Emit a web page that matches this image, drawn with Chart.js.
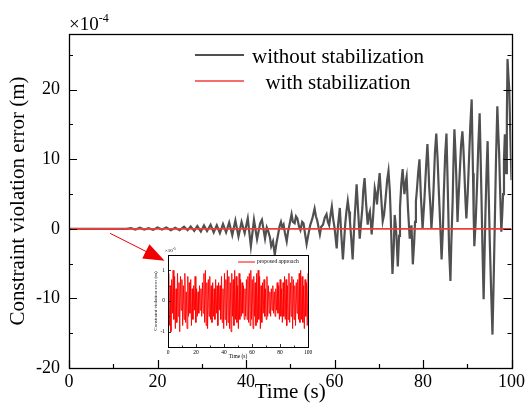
<!DOCTYPE html>
<html><head><meta charset="utf-8">
<script src="https://cdn.jsdelivr.net/npm/chart.js@4/dist/chart.umd.min.js"></script>
<style>
html,body{margin:0;padding:0;background:#fff;}
#wrap{position:relative;width:528px;height:413px;overflow:hidden;background:#fff;}
#main{position:absolute;left:0;top:0;}
#inset{position:absolute;left:146px;top:243px;}
</style></head><body>
<div id="wrap"><canvas id="main" width="528" height="413"></canvas><canvas id="inset" width="172" height="120"></canvas></div>
<script>
const FONT = "'Liberation Serif','Times New Roman',serif";

// ---- main chart data (x10^-4 m) ----
const seriesNames = ['without stabilization', 'with stabilization'];
const xTickValues = [0, 20, 40, 60, 80, 100];
const yTickValues = [-20, -10, 0, 10, 20];
const timeWithout = [
  0, 13, 14, 15, 16, 17, 18, 19, 20, 21,
  22, 23, 24, 25, 26, 26.8, 27.5, 28.3, 29, 29.8,
  30.5, 31.2, 32, 32.7, 33.4, 34.1, 34.8, 35.5, 36.2, 36.9,
  37.6, 38.3, 39, 39.7, 40.4, 41.1, 41.8, 42.5, 43.2, 43.6,
  44.3, 44.7, 45, 45.4, 45.7, 46.1, 46.5, 46.9, 47.2, 47.6,
  47.9, 48.2, 48.5, 48.8, 49.2, 49.5, 49.8, 50.3, 50.6, 51,
  51.3, 51.6, 52, 52.3, 52.7, 53, 53.3, 53.7, 54.1, 54.5,
  55, 55.5, 55.8, 56.1, 56.4, 56.7, 57, 57.4, 57.8, 58.2,
  58.5, 58.8, 59.1, 59.4, 59.7, 60, 60.5, 60.8, 61.2, 61.5,
  61.9, 62.2, 62.4, 62.7, 63, 63.3, 63.5, 63.8, 64.1, 64.5,
  65, 65.3, 65.7, 66, 66.3, 66.5, 66.8, 67.1, 67.5, 67.7,
  68, 68.2, 68.4, 68.7, 69.1, 69.4, 69.6, 69.9, 70.2, 70.5,
  70.9, 71.2, 71.5, 71.9, 72.2, 72.5, 72.7, 72.9, 73.1, 73.4,
  73.6, 73.8, 74, 74.3, 74.6, 74.8, 75.1, 75.4, 75.6, 75.8,
  76.1, 76.3, 76.6, 77, 77.4, 77.7, 78, 78.2, 78.4, 78.6,
  78.9, 79.2, 79.5, 79.9, 80.1, 80.3, 80.7, 81, 81.2, 81.4,
  81.7, 81.9, 82.2, 82.4, 82.7, 83, 83.3, 83.6, 83.9, 84.2,
  84.5, 84.7, 85, 85.3, 85.5, 85.7, 85.9, 86.2, 86.4, 86.7,
  86.9, 87.1, 87.3, 87.5, 87.8, 88, 88.3, 88.6, 88.9, 89.1,
  89.3, 89.6, 89.8, 90.1, 90.4, 90.7, 91, 91.15, 91.3, 91.45,
  91.6, 91.9, 92.2, 92.5, 92.8, 93, 93.2, 93.45, 93.7, 93.9,
  94.1, 94.35, 94.6, 94.85, 95.1, 95.4, 95.7, 95.95, 96.2, 96.5,
  96.8, 97, 97.2, 97.45, 97.7, 97.9, 98.1, 98.3, 98.5, 98.65,
  98.8, 98.95, 99.1, 99.3, 99.5, 99.75, 100
];
const valWithout = [
  0, 0, 0.1, -0.1, 0.15, -0.1, 0.1, -0.15, 0.2, -0.1,
  0.2, -0.2, 0.15, -0.2, 0.3, -0.2, 0.35, -0.3, 0.4, -0.4,
  0.5, -0.3, 0.6, -0.5, 0.5, -0.6, 0.7, -0.5, 0.9, -0.9,
  1.2, -1.1, 1.0, -0.6, 1.5, -2.5, 1.3, -1.5, 0.8, 1.3,
  -1.4, 0.2, -0.3, -1.2, -2.5, -1.8, -3.7, -2.0, -1.0, 0.4,
  1.0, 0.2, 0.6, -0.6, -1.8, -0.4, 0.5, 2.1, 1.0, 0.8,
  1.8, 1.5, 0.3, -0.2, 1.0, 0.8, -0.5, -2.2, -0.8, 0.5,
  1.5, 2.9, 1.8, 1.2, 0.2, -0.8, 0.3, 0.6, 1.6, 2.1,
  1.0, 0.5, 2.0, 3.2, 1.4, 0.2, -2.8, 0.5, 3.0, -0.5,
  -4.4, -1.5, 0.5, 2.5, 4.0, 2.5, 1.0, -1.5, -4.4, 1.0,
  6.4, 3.0, -1.4, 0.8, 3.0, 5.5, 7.3, 4.0, 0.6, 1.8,
  2.5, 1.0, -0.8, 1.5, 5.8, 4.8, 3.5, 6.0, 8.0, 5.0,
  1.1, 2.0, 4.0, 7.0, 8.3, 5.5, 2.0, -2.5, -6.5, -2.5,
  2.0, 0.8, -1.0, -5.4, -1.0, 3.0, 6.5, 8.6, 6.5, 5.0,
  6.8, 7.5, 3.0, -1.4, 0.5, -5.1, -2.0, 1.0, 4.0, 5.4,
  8.0, 10.0, 5.0, 0.0, 2.0, 4.0, 9.0, 12.2, 9.5, 6.0,
  3.0, 0.0, 3.0, 6.0, 11.0, 13.7, 10.0, 5.0, 0.5, -4.4,
  0.0, 5.0, 10.5, 13.7, 8.5, 3.0, -3.0, -7.5, -2.0, 4.0,
  10.0, 14.3, 11.5, 8.0, 1.0, 4.0, 8.0, 12.0, 14.0, 12.0,
  9.0, 4.0, 1.5, 5.0, 10.0, 15.0, 18.6, 13.0, 8.0, 2.0,
  -2.5, 1.0, 6.0, 12.0, 16.6, 11.0, 5.0, -3.0, -10.1, -4.0,
  2.0, 8.0, 12.6, 5.0, -2.0, -9.0, -15.2, -8.0, 0.0, 10.0,
  17.6, 14.0, 11.0, 5.0, -0.4, 2.0, 5.0, 10.0, 13.6, 11.0,
  8.0, 16.0, 24.4, 22.0, 20.0, 13.0, 7.0
];
const timeWith = [0, 100];
const valWith = [0, 0];

// ---- inset chart data (x10^-5 m) ----
const insetName = 'proposed approach';
const insetXTickValues = [0, 20, 40, 60, 80, 100];
const insetYTickValues = [-1, 0, 1];
const insetVals = [
  0, 0.9, -0.8, 0.5, -1.0, 0.7, -0.4, 1.0, -0.6, 0.8, -0.9, 0.4, -0.7, 0.9, -0.5, 0.6, -1.0, 0.8, -0.3, 0.7, -0.8,
  0.5, -0.6, 0.9, -0.7, 0.3, -0.9, 0.8, -0.5, 0.6, -0.4, 0.7, -0.8, 0.4, -0.6, 0.5, -0.3, 0.8, -0.7, 0.4, -0.5,
  0.3, -0.4, 0.5, -0.3, 0.4, -0.5, 0.6, -0.4, 0.9, -0.7, 1.0, -0.8, 0.6, -0.9, 0.7, -0.5, 0.8, -0.6, 0.5, -0.7,
  0.6, -0.5, 0.4, -0.6, 0.7, -0.4, 0.5, -0.8, 0.6, -0.3, 0.5, -0.6, 0.8, -0.7, 0.4, -0.9, 0.9, -0.6, 0.7, -0.8,
  1.0, -0.7, 0.8, -0.9, 0.6, -1.0, 0.9, -0.5, 0.7, -0.8, 1.0, -0.6, 0.8, -0.7, 0.5, -0.9, 0.9, -0.6, 0.7, -0.5,
  0.6, -0.4, 0.5, -0.6, 0.4, -0.5, 0.7, -0.6, 0.8, -0.7, 0.9, -0.8, 1.0, -0.6, 0.7, -0.9, 0.8, -0.5, 0.6, -0.8,
  0.9, -0.7, 1.0, -0.6, 0.8, -0.9, 0.5, -0.7, 0.6, -0.4, 0.7, -0.5, 0.4, -0.6, 0.8, -0.5, 0.5, -0.4, 0.3, -0.5,
  0.4, -0.3, 0.5, -0.4, 0.3, -0.5, 0.4, -0.3, 0.6, -0.4, 0.5, -0.6, 0.7, -0.5, 0.4, -0.7, 0.6, -0.5, 0.8, -0.6,
  0.7, -0.8, 0.5, -0.6, 0.9, -0.7, 0.6, -0.5, 0.8, -0.9, 0.7, -0.6, 0.5, -0.8, 0.6, -0.4, 0.7, -0.6, 0.9, -0.7,
  1.0, -0.6, 0.8, -0.7, 0.5, -0.9, 0.7, -0.5, 0.6, -0.8, 0.9
];
const insetTimes = insetVals.map((_, i) => i * 100 / (insetVals.length - 1));

const toXY = (xs, ys) => xs.map((x, i) => ({x: x, y: ys[i]}));

// frame + inward ticks
const frameTicks = {
  id: 'frameTicks',
  afterDatasetsDraw(chart, args, o) {
    const ctx = chart.ctx, a = chart.chartArea, sx = chart.scales.x, sy = chart.scales.y;
    ctx.save();
    ctx.strokeStyle = '#000';
    ctx.lineWidth = o.lw;
    ctx.beginPath();
    for (let v = sx.min; v <= sx.max + 1e-9; v += o.xMinor) {
      const major = Math.abs(v / o.xMajor - Math.round(v / o.xMajor)) < 1e-6;
      const px = Math.round(sx.getPixelForValue(v)) + 0.5;
      const L = major ? o.big : o.small;
      ctx.moveTo(px, a.bottom); ctx.lineTo(px, a.bottom - L);
    }
    for (let v = o.yStart; v <= sy.max + 1e-9; v += o.yMinor) {
      const major = Math.abs(v / o.yMajor - Math.round(v / o.yMajor)) < 1e-6;
      const py = Math.round(sy.getPixelForValue(v)) + 0.5;
      const L = major ? o.big : o.small;
      ctx.moveTo(a.left, py); ctx.lineTo(a.left + L, py);
      if (o.mirror) { ctx.moveTo(a.right, py); ctx.lineTo(a.right - L, py); }
    }
    ctx.stroke();
    ctx.lineWidth = o.frame;
    ctx.strokeRect(Math.round(a.left) + 0.5, Math.round(a.top) + 0.5, Math.round(a.right - a.left), Math.round(a.bottom - a.top));
    ctx.restore();
  }
};

// centred legend, exponent label and arrow for the main chart
const mainDecor = {
  id: 'mainDecor',
  afterDraw(chart) {
    const ctx = chart.ctx, a = chart.chartArea, sx = chart.scales.x, sy = chart.scales.y;
    ctx.save();
    const rowsY = [a.top + 21, a.top + 47];
    chart.data.datasets.forEach((ds, i) => {
      const y = rowsY[i];
      ctx.strokeStyle = ds.borderColor; ctx.lineWidth = ds.borderWidth;
      ctx.beginPath(); ctx.moveTo(195, y); ctx.lineTo(244, y); ctx.stroke();
      ctx.fillStyle = '#000';
      ctx.font = '21px ' + FONT;
      ctx.textAlign = 'center'; ctx.textBaseline = 'middle';
      ctx.fillText(ds.label, 338, y + 2);
    });
    ctx.textAlign = 'left'; ctx.textBaseline = 'alphabetic';
    ctx.font = '19px ' + FONT;
    ctx.fillText('\u00d710', a.left, a.top - 4);
    const w = ctx.measureText('\u00d710').width;
    ctx.font = '12px ' + FONT;
    ctx.fillText('-4', a.left + w, a.top - 12);
    // arrow pointing at the inset
    const x0 = sx.getPixelForValue(9.3), y0 = sy.getPixelForValue(-0.65);
    const x1 = sx.getPixelForValue(21.6), y1 = sy.getPixelForValue(-4.6);
    const ang = Math.atan2(y1 - y0, x1 - x0);
    ctx.strokeStyle = '#f00000'; ctx.fillStyle = '#f00000'; ctx.lineWidth = 1;
    ctx.beginPath(); ctx.moveTo(x0, y0); ctx.lineTo(x1 - 16 * Math.cos(ang), y1 - 16 * Math.sin(ang)); ctx.stroke();
    ctx.beginPath();
    ctx.moveTo(x1, y1);
    ctx.lineTo(x1 - 21 * Math.cos(ang) + 8 * Math.sin(ang), y1 - 21 * Math.sin(ang) - 8 * Math.cos(ang));
    ctx.lineTo(x1 - 21 * Math.cos(ang) - 8 * Math.sin(ang), y1 - 21 * Math.sin(ang) + 8 * Math.cos(ang));
    ctx.closePath(); ctx.fill();
    ctx.restore();
  }
};

new Chart(document.getElementById('main'), {
  type: 'line',
  data: {
    datasets: [
      {label: seriesNames[0], data: toXY(timeWithout, valWithout), borderColor: '#505050', borderWidth: 2.2, pointRadius: 0, tension: 0, order: 2},
      {label: seriesNames[1], data: toXY(timeWith, valWith), borderColor: '#f23c3c', borderWidth: 1.6, pointRadius: 0, tension: 0, order: 1}
    ]
  },
  options: {
    responsive: false, animation: false, devicePixelRatio: 1,
    layout: {padding: {top: 34, right: 16, left: 0, bottom: 0}},
    plugins: {
      legend: {display: false}, tooltip: {enabled: false},
      frameTicks: {lw: 1.2, frame: 1.3, big: 8, small: 4, xMajor: 20, xMinor: 10, yMajor: 10, yMinor: 5, yStart: -20, mirror: true}
    },
    scales: {
      x: {
        type: 'linear', min: 0, max: 100,
        afterBuildTicks: s => { s.ticks = xTickValues.map(v => ({value: v})); },
        afterFit: s => { s.height = 45; },
        grid: {display: false, drawTicks: false}, border: {display: false},
        ticks: {font: {family: FONT, size: 18}, color: '#000', padding: 3, maxRotation: 0, autoSkip: false},
        title: {display: true, text: 'Time (s)', font: {family: FONT, size: 21}, color: '#000', padding: {top: 0, bottom: 8}}
      },
      y: {
        type: 'linear', min: -20, max: 28,
        afterBuildTicks: s => { s.ticks = yTickValues.map(v => ({value: v})); },
        afterFit: s => { s.width = 69; },
        grid: {display: false, drawTicks: false}, border: {display: false},
        ticks: {font: {family: FONT, size: 18}, color: '#000', padding: 9},
        title: {display: true, text: 'Constraint violation error (m)', font: {family: FONT, size: 21}, color: '#000', padding: {top: 6, bottom: 0}}
      }
    }
  },
  plugins: [frameTicks, mainDecor]
});

const insetDecor = {
  id: 'insetDecor',
  beforeDraw(chart) {
    const ctx = chart.ctx, a = chart.chartArea;
    ctx.save(); ctx.fillStyle = '#fff';
    ctx.fillRect(a.left, a.top, a.right - a.left, a.bottom - a.top);
    ctx.restore();
  },
  afterDraw(chart) {
    const ctx = chart.ctx, a = chart.chartArea, ds = chart.data.datasets[0];
    ctx.save();
    ctx.strokeStyle = ds.borderColor; ctx.lineWidth = 1;
    ctx.beginPath(); ctx.moveTo(a.left + 70, a.top + 7); ctx.lineTo(a.left + 87, a.top + 7); ctx.stroke();
    ctx.fillStyle = '#000'; ctx.font = '5.5px ' + FONT; ctx.textAlign = 'left'; ctx.textBaseline = 'middle';
    ctx.fillText(ds.label, a.left + 89, a.top + 7);
    ctx.textBaseline = 'alphabetic';
    ctx.font = '5px ' + FONT;
    ctx.fillText('\u00d710', a.left - 3, a.top - 3);
    const w = ctx.measureText('\u00d710').width;
    ctx.font = '3.5px ' + FONT;
    ctx.fillText('-5', a.left - 3 + w, a.top - 5.5);
    ctx.restore();
  }
};

new Chart(document.getElementById('inset'), {
  type: 'line',
  data: {datasets: [{label: insetName, data: toXY(insetTimes, insetVals), borderColor: '#ff0000', borderWidth: 0.9, pointRadius: 0, tension: 0}]},
  options: {
    responsive: false, animation: false, devicePixelRatio: 1,
    layout: {padding: {top: 12, right: 10, left: 0, bottom: 0}},
    plugins: {
      legend: {display: false}, tooltip: {enabled: false},
      frameTicks: {lw: 0.8, frame: 1, big: 3, small: 1.5, xMajor: 20, xMinor: 10, yMajor: 1, yMinor: 0.5, yStart: -1.5, mirror: false}
    },
    scales: {
      x: {
        type: 'linear', min: 0, max: 100,
        afterBuildTicks: s => { s.ticks = insetXTickValues.map(v => ({value: v})); },
        afterFit: s => { s.height = 16; },
        grid: {display: false, drawTicks: false}, border: {display: false},
        ticks: {font: {family: FONT, size: 5.5}, color: '#000', padding: 2, maxRotation: 0, autoSkip: false},
        title: {display: true, text: 'Time (s)', font: {family: FONT, size: 5.5}, color: '#000', padding: {top: 0, bottom: 3}}
      },
      y: {
        type: 'linear', min: -1.5, max: 1.5,
        afterBuildTicks: s => { s.ticks = insetYTickValues.map(v => ({value: v})); },
        afterFit: s => { s.width = 22; },
        grid: {display: false, drawTicks: false}, border: {display: false},
        ticks: {font: {family: FONT, size: 5.5}, color: '#000', padding: 3},
        title: {display: true, text: 'Constraint violation error (m)', font: {family: FONT, size: 5}, color: '#000', padding: {top: 7, bottom: 0}}
      }
    }
  },
  plugins: [frameTicks, insetDecor]
});
</script>
</body></html>
